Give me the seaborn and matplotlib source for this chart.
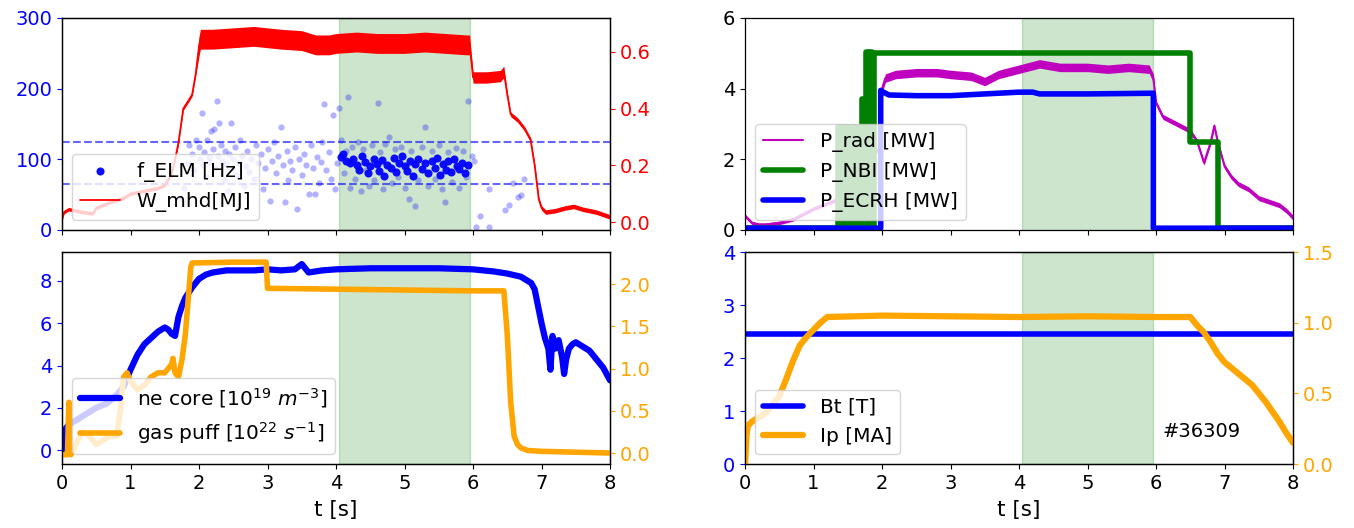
import matplotlib
matplotlib.use("Agg")
import matplotlib.pyplot as plt
import seaborn as sns
import numpy as np

# ---------------- data ----------------
# ELM frequency [Hz]
elm_light_t = [1.72, 1.78, 1.82, 1.86, 1.90, 1.93, 1.96, 2.00, 2.02, 2.04,
               2.06, 2.08, 2.10, 2.12, 2.14, 2.16, 2.18, 2.20, 2.22, 2.24,
               2.26, 2.28, 2.29, 2.32, 2.34, 2.36, 2.38, 2.40, 2.42, 2.44,
               2.46, 2.48, 2.50, 2.53, 2.56, 2.58, 2.60, 2.63, 2.66, 2.68,
               2.70, 2.73, 2.76, 2.80, 2.83, 2.86, 2.90, 2.93, 2.96, 3.00,
               3.03, 3.06, 3.10, 3.13, 3.16, 3.20, 3.22, 3.25, 3.28, 3.30,
               3.33, 3.36, 3.40, 3.43, 3.46, 3.50, 3.53, 3.56, 3.60, 3.63,
               3.66, 3.70, 3.72, 3.75, 3.78, 3.80, 3.83, 3.86, 3.90, 3.93,
               3.96, 3.99, 4.02,
               4.05, 4.08, 4.12, 4.15, 4.18, 4.20, 4.24, 4.28, 4.32, 4.36,
               4.40, 4.44, 4.48, 4.52, 4.56, 4.61, 4.64, 4.68, 4.72, 4.78,
               4.82, 4.86, 4.90, 4.95, 5.00, 5.06, 5.10, 5.16, 5.20, 5.25,
               5.30, 5.34, 5.40, 5.45, 5.50, 5.55, 5.59, 5.64, 5.70, 5.75,
               5.80, 5.85, 5.90, 5.93,
               5.98, 6.01, 6.04, 6.10, 6.23, 6.23, 6.46, 6.52, 6.58, 6.65,
               6.70, 6.75]
elm_light_f = [45, 60, 95, 120, 108, 85, 128, 118, 100, 166,
               92, 110, 75, 128, 103, 96, 140, 115, 143, 88,
               183, 105, 152, 120, 98, 70, 112, 93, 55, 108,
               152, 86, 100, 118, 78, 95, 128, 104, 62, 90,
               112, 82, 100, 72, 120, 95, 108, 58, 88, 115,
               41, 98, 125, 80, 104, 145, 92, 39, 112, 70,
               97, 85, 118, 30, 100, 78, 108, 92, 51, 120,
               88, 51, 103, 66, 96, 124, 178, 85, 110, 72,
               162, 58, 95,
               172, 128, 80, 112, 188, 60, 118, 72, 124, 55,
               115, 85, 62, 120, 70, 179, 110, 58, 122, 131,
               66, 115, 75, 118, 60, 44, 112, 34, 70, 118,
               145, 62, 112, 72, 120, 58, 39, 110, 68, 116,
               60, 112, 75, 183,
               105, 98, 4, 20, 4, 58, 28, 36, 66, 46,
               50, 72]
elm_dark_t = [4.07, 4.10, 4.14, 4.20, 4.25, 4.30, 4.34, 4.38, 4.42, 4.46,
              4.50, 4.55, 4.60, 4.63, 4.67, 4.70, 4.75, 4.80, 4.84, 4.88,
              4.92, 4.96, 5.00, 5.04, 5.08, 5.12, 5.16, 5.20, 5.25, 5.30,
              5.35, 5.40, 5.44, 5.48, 5.52, 5.56, 5.60, 5.64, 5.68, 5.72,
              5.76, 5.80, 5.84, 5.88, 5.92]
elm_dark_f = [103, 108, 98, 95, 100, 92, 85, 104, 96, 80,
              90, 100, 94, 84, 99, 76, 92, 88, 102, 82,
              95, 105, 90, 84, 98, 76, 93, 100, 86, 95,
              80, 98, 88, 102, 78, 93, 85, 97, 82, 100,
              90, 86, 95, 80, 92]
elm_band = [125, 65]

# W_mhd [MJ]
w_t = [0.0, 0.03, 0.1, 0.2, 0.3, 0.45, 0.5, 0.7, 0.9, 1.0,
       1.2, 1.4, 1.5, 1.6, 1.65, 1.7, 1.77, 1.85, 1.9, 1.95,
       2.0, 2.02, 2.2, 2.5, 2.8, 3.0, 3.2, 3.5, 3.7, 3.9,
       4.0, 4.3, 4.6, 5.0, 5.3, 5.6, 5.9, 5.95,
       5.98, 6.0, 6.2, 6.4, 6.45,
       6.5, 6.55, 6.65, 6.75, 6.84, 6.9, 6.96, 7.0, 7.06, 7.2,
       7.35, 7.47, 7.6, 7.8, 8.0]
w_mid = [0.01, 0.035, 0.045, 0.04, 0.035, 0.03, 0.05, 0.07, 0.085, 0.10,
         0.11, 0.12, 0.13, 0.17, 0.22, 0.28, 0.40, 0.43, 0.45, 0.52,
         0.62, 0.645, 0.645, 0.65, 0.655, 0.65, 0.645, 0.64, 0.625, 0.625,
         0.63, 0.635, 0.63, 0.63, 0.635, 0.63, 0.625, 0.625,
         0.56, 0.51, 0.51, 0.515, 0.53,
         0.45, 0.38, 0.36, 0.33, 0.29, 0.2, 0.08, 0.05, 0.035, 0.04,
         0.05, 0.055, 0.045, 0.035, 0.018]
w_hw = [0.006] * 20 + [0.035] * 18 + [0.02] * 5 + [0.008] * 15

# P_rad, P_NBI, P_ECRH [MW]
pr_t = [0.0, 0.05, 0.1, 0.2, 0.3, 0.5, 0.7, 0.9, 1.0, 1.2,
        1.4, 1.5, 1.6, 1.7, 1.8, 1.9, 1.96,
        2.0, 2.05, 2.2, 2.5, 2.8, 3.0, 3.3, 3.5, 3.7, 4.0,
        4.3, 4.6, 5.0, 5.3, 5.6, 5.9, 5.96,
        6.0, 6.1, 6.3, 6.5, 6.6, 6.7, 6.75, 6.8, 6.85, 6.9,
        7.0, 7.1, 7.2, 7.35, 7.5, 7.65, 7.8, 7.9, 8.0]
pr = [0.4, 0.3, 0.2, 0.15, 0.15, 0.2, 0.3, 0.5, 0.6, 0.75,
      0.9, 1.1, 1.4, 1.8, 2.0, 2.2, 2.3,
      4.0, 4.3, 4.4, 4.45, 4.45, 4.4, 4.35, 4.2, 4.4, 4.55,
      4.7, 4.6, 4.6, 4.55, 4.6, 4.55, 4.3,
      3.6, 3.2, 3.0, 2.8, 2.5, 1.9, 2.2, 2.5, 2.95, 2.5,
      1.8, 1.5, 1.3, 1.15, 0.9, 0.8, 0.7, 0.55, 0.35]
pr_hw = [0.05] * 17 + [0.12] * 17 + [0.07] * 19

nbi_t = [0.0, 1.36, 1.36, 1.41, 1.41, 1.46, 1.46, 1.51, 1.51, 1.56,
         1.56, 1.61, 1.61, 1.66, 1.66, 1.71, 1.71, 1.74, 1.74, 1.76,
         1.76, 1.79, 1.79, 1.82, 1.82, 1.85, 1.85, 1.88, 1.88, 6.5,
         6.5, 6.9, 6.9, 8.0]
nbi = [0.05, 0.05, 2.9, 2.9, 0.05, 0.05, 2.9, 2.9, 0.05, 0.05,
       2.9, 2.9, 0.05, 0.05, 2.9, 2.9, 3.7, 3.7, 0.05, 0.05,
       5.05, 5.05, 0.05, 0.05, 5.05, 5.05, 0.05, 0.05, 5.0, 5.0,
       2.5, 2.5, 0.05, 0.05]

ec_t = [0.0, 1.98, 1.98, 2.02, 2.1, 2.5, 3.0, 3.5, 4.0, 4.2, 4.3, 5.0, 5.5, 5.96, 5.96, 8.0]
ec = [0.05, 0.05, 3.95, 3.9, 3.82, 3.8, 3.8, 3.85, 3.9, 3.9, 3.85, 3.85, 3.86, 3.87, 0.05, 0.05]

# ne core [1e19 m^-3] and gas puff [1e22 s^-1]
ne_t = [0.0, 0.02, 0.05, 0.1, 0.2, 0.35, 0.5, 0.65, 0.8, 0.9,
        1.0, 1.1, 1.2, 1.3, 1.4, 1.5, 1.55, 1.6, 1.65, 1.7,
        1.75, 1.8, 1.9, 2.0, 2.1, 2.2, 2.4, 2.6, 2.8, 3.0,
        3.2, 3.4, 3.5, 3.55, 3.6, 3.8, 4.0, 4.5, 5.0, 5.5,
        6.0, 6.3, 6.5, 6.7, 6.8, 6.85, 6.9, 6.95, 7.0, 7.05,
        7.1, 7.13, 7.16, 7.2, 7.25, 7.3, 7.33, 7.36, 7.4, 7.45,
        7.5, 7.6, 7.7, 7.8, 7.9, 8.0]
ne = [0.0, 0.8, 1.0, 1.2, 1.4, 1.7, 2.0, 2.2, 2.6, 3.0,
      3.8, 4.5, 5.0, 5.3, 5.6, 5.8, 5.7, 5.5, 5.4, 6.3,
      6.8, 7.2, 7.7, 8.1, 8.3, 8.4, 8.5, 8.5, 8.5, 8.55,
      8.5, 8.55, 8.8, 8.6, 8.4, 8.5, 8.55, 8.6, 8.6, 8.6,
      8.55, 8.45, 8.35, 8.2, 8.0, 7.9, 7.6, 6.8, 6.0, 5.3,
      4.8, 3.8, 5.4, 4.8, 5.2, 4.4, 3.6, 4.3, 4.8, 5.0,
      5.1, 4.9, 4.7, 4.3, 3.9, 3.3]

gp_t = [0.0, 0.08, 0.09, 0.1, 0.11, 0.13, 0.2, 0.3, 0.4, 0.5,
        0.6, 0.7, 0.8, 0.85, 0.9, 0.95, 1.0, 1.1, 1.2, 1.3,
        1.4, 1.5, 1.55, 1.6, 1.62, 1.65, 1.7, 1.75, 1.8, 1.88,
        1.9, 2.5, 2.98, 3.0, 4.0, 5.0, 6.0, 6.45, 6.5, 6.55,
        6.6, 6.65, 6.7, 6.8, 7.0, 8.0]
gp = [-0.02, -0.02, 0.3, 0.6, 0.1, -0.02, 0.1, 0.25, 0.2, 0.1,
      0.15, 0.2, 0.2, 0.5, 0.9, 0.95, 0.85, 0.75, 0.8, 0.9,
      0.95, 0.95, 1.0, 1.05, 1.12, 0.95, 0.9, 1.1, 1.4, 2.2,
      2.25, 2.26, 2.26, 1.95, 1.94, 1.93, 1.92, 1.92, 1.4, 0.6,
      0.2, 0.1, 0.06, 0.03, 0.02, 0.0]

# Bt [T] and Ip [MA]
bt_t = [0.0, 8.0]
bt = [2.46, 2.46]
ip_t = [0.0, 0.02, 0.04, 0.1, 0.2, 0.3, 0.4, 0.5, 0.6, 0.7,
        0.8, 0.9, 1.0, 1.1, 1.2, 2.0, 3.0, 4.0, 5.0, 6.0,
        6.5, 6.6, 6.7, 6.8, 6.9, 7.0, 7.1, 7.2, 7.3, 7.4,
        7.5, 7.6, 7.7, 7.8, 7.9, 8.0]
ip = [0.0, 0.2, 0.27, 0.3, 0.33, 0.36, 0.42, 0.48, 0.6, 0.73,
      0.84, 0.9, 0.95, 1.0, 1.04, 1.05, 1.045, 1.04, 1.045, 1.04,
      1.04, 0.98, 0.93, 0.86, 0.78, 0.72, 0.68, 0.64, 0.6, 0.56,
      0.5, 0.44, 0.37, 0.3, 0.22, 0.15]

window = (4.05, 5.95)
shot_label = "#36309"

# ---------------- style ----------------
sns.set_style("ticks")
FS = 14
LFS = 14.5
XFS = 15.5
plt.rcParams.update({
    "font.family": ["DejaVu Sans"],
    "font.size": FS,
    "axes.edgecolor": "black",
    "axes.linewidth": 0.9,
    "text.color": "black",
    "axes.labelcolor": "black",
    "xtick.color": "black",
    "ytick.color": "black",
    "xtick.labelsize": FS,
    "ytick.labelsize": FS,
    "axes.labelsize": XFS,
    "legend.fontsize": LFS,
    "xtick.major.size": 3.5,
    "ytick.major.size": 3.5,
})

fig, axes = plt.subplots(2, 2, figsize=(13.54, 5.28), dpi=100, sharex=True)
fig.subplots_adjust(left=0.0458, right=0.955, bottom=0.1212, top=0.966,
                    wspace=0.2464, hspace=0.104)

LEG = dict(loc="lower left", frameon=True, framealpha=0.8, edgecolor="0.8", fancybox=True)


def line(ax, x, y, **kw):
    sns.lineplot(x=x, y=y, ax=ax, estimator=None, sort=False, legend=False, **kw)
    return ax.lines[-1]


# ---- top-left: ELM frequency & W_mhd ----
ax = axes[0, 0]
ax.axvspan(*window, color="g", alpha=0.2)
sns.scatterplot(x=elm_light_t, y=elm_light_f, ax=ax, color="blue", alpha=0.3,
                s=20, linewidth=0, legend=False)
sns.scatterplot(x=elm_dark_t, y=elm_dark_f, ax=ax, color="blue", alpha=0.95,
                s=34, linewidth=0, legend=False)
h_elm = ax.collections[-1]
for lvl in elm_band:
    ax.axhline(lvl, color="blue", alpha=0.6, ls="--", lw=1.5)
ax.set_ylim(0, 300)
ax.set_yticks([0, 100, 200, 300])
ax.tick_params(axis="y", colors="blue")
ax2 = ax.twinx()
w_lo = [m - h for m, h in zip(w_mid, w_hw)]
w_hi = [m + h for m, h in zip(w_mid, w_hw)]
ax2.fill_between(w_t, w_lo, w_hi, color="red", lw=0)
h_w = line(ax2, w_t, w_mid, color="red", lw=1.3)
ax2.set_ylim(-0.028, 0.72)
ax2.set_yticks([0.0, 0.2, 0.4, 0.6])
ax2.tick_params(axis="y", colors="red")
ax2.legend([h_elm, h_w], ["f_ELM [Hz]", "W_mhd[MJ]"], **LEG)

# ---- top-right: powers ----
ax = axes[0, 1]
ax.axvspan(*window, color="g", alpha=0.2)
pr_lo = [m - h for m, h in zip(pr, pr_hw)]
pr_hi = [m + h for m, h in zip(pr, pr_hw)]
ax.fill_between(pr_t, pr_lo, pr_hi, color="m", lw=0)
h_pr = line(ax, pr_t, pr, color="m", lw=1.5)
h_nbi = line(ax, nbi_t, nbi, color="g", lw=4)
h_ec = line(ax, ec_t, ec, color="blue", lw=4)
ax.set_ylim(0, 6)
ax.set_yticks([0, 2, 4, 6])
ax.legend([h_pr, h_nbi, h_ec], ["P_rad [MW]", "P_NBI [MW]", "P_ECRH [MW]"], **LEG)

# ---- bottom-left: density & gas puff ----
ax = axes[1, 0]
ax.axvspan(*window, color="g", alpha=0.2)
h_ne = line(ax, ne_t, ne, color="blue", lw=4.5)
ax.set_ylim(-0.66, 9.37)
ax.set_yticks([0, 2, 4, 6, 8])
ax.tick_params(axis="y", colors="blue")
ax2 = ax.twinx()
h_gp = line(ax2, gp_t, gp, color="orange", lw=4)
ax2.set_ylim(-0.13, 2.38)
ax2.set_yticks([0.0, 0.5, 1.0, 1.5, 2.0])
ax2.tick_params(axis="y", colors="orange")
ax2.legend([h_ne, h_gp], ["ne core [$10^{19}$ $m^{-3}$]", "gas puff [$10^{22}$ $s^{-1}$]"], **LEG)
ax.set_xlabel("t [s]", labelpad=5)

# ---- bottom-right: Bt & Ip ----
ax = axes[1, 1]
ax.axvspan(*window, color="g", alpha=0.2)
h_bt = line(ax, bt_t, bt, color="blue", lw=4)
ax.set_ylim(0, 4)
ax.set_yticks([0, 1, 2, 3, 4])
ax.tick_params(axis="y", colors="blue")
ax.text(6.1, 0.62, shot_label, va="center", ha="left", fontsize=FS)
ax2 = ax.twinx()
h_ip = line(ax2, ip_t, ip, color="orange", lw=4.5)
ax2.set_ylim(0, 1.5)
ax2.set_yticks([0.0, 0.5, 1.0, 1.5])
ax2.tick_params(axis="y", colors="orange")
ax2.legend([h_bt, h_ip], ["Bt [T]", "Ip [MA]"], **LEG)
ax.set_xlabel("t [s]", labelpad=5)

for a in axes.flat:
    a.set_xlim(0, 8)
    a.set_xticks(range(9))
    if a not in (axes[1, 0], axes[1, 1]):
        a.set_xlabel("")
    a.set_ylabel("")

fig.savefig("out.png", dpi=100)
